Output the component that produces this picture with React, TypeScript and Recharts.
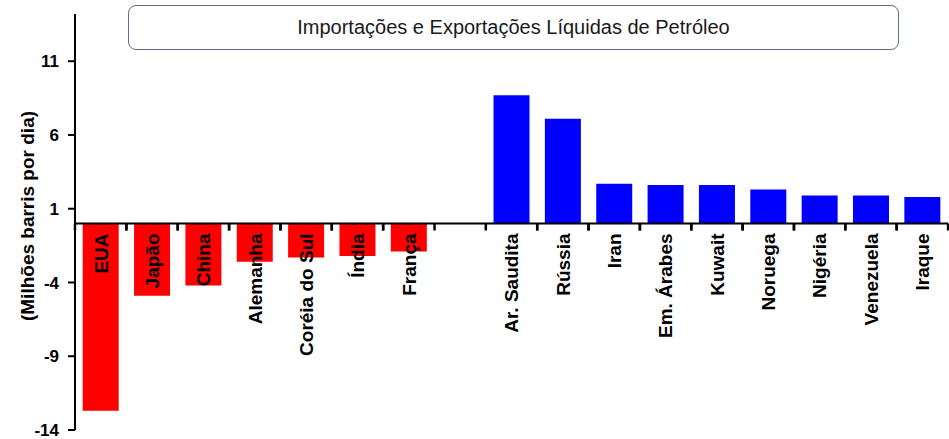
import React from 'react';
import { BarChart, Bar, XAxis, YAxis, ReferenceLine, LabelList, Cell, Label } from 'recharts';

const categories = [
  'EUA', 'Japão', 'China', 'Alemanha', 'Coréia do Sul', 'Índia', 'França', '',
  'Ar. Saudita', 'Rússia', 'Iran', 'Em. Árabes', 'Kuwait', 'Noruega', 'Nigéria', 'Venezuela', 'Iraque',
];
const netValues: (number | null)[] = [
  -12.7, -4.9, -4.2, -2.6, -2.3, -2.2, -1.9, null,
  8.7, 7.1, 2.7, 2.6, 2.6, 2.3, 1.9, 1.9, 1.8,
];
const yTicks = [-14, -9, -4, 1, 6, 11];
const title = 'Importações e Exportações Líquidas de Petróleo';
const yLabel = '(Milhões barris por dia)';

const data = categories.map((name, i) => ({ name, value: netValues[i] }));

const FONT = '"Liberation Sans", Arial, Helvetica, sans-serif';
const GAP = 0.15;

const renderCategoryLabel = (props: any) => {
  const vb = props.viewBox ?? props;
  const byName = typeof props.value === 'string' ? categories.indexOf(props.value) : -1;
  const idx = byName >= 0 ? byName : props.index;
  const name = categories[idx];
  const v = netValues[idx];
  if (!name || v == null || vb == null) return null;
  const { x, y, width, height } = vb;
  if (![x, y, width, height].every((n: any) => typeof n === 'number' && isFinite(n))) return null;
  const zero = v < 0 ? Math.min(y, y + height) : Math.max(y, y + height);
  const cx = x + width / 2;
  const band = width / (1 - 2 * GAP);
  const left = cx - band / 2;
  const right = cx + band / 2;
  const ly = zero + 10;
  return (
    <g>
      <line x1={left} x2={left} y1={zero} y2={zero + 7} stroke="#000" strokeWidth={2.5} />
      <line x1={right} x2={right} y1={zero} y2={zero + 7} stroke="#000" strokeWidth={2.5} />
      <text
        x={cx}
        y={ly}
        transform={`rotate(-90 ${cx} ${ly})`}
        textAnchor="end"
        dy="0.36em"
        fontFamily={FONT}
        fontWeight="bold"
        fontSize={19}
        fill="#000"
      >
        {name}
      </text>
    </g>
  );
};

const renderYLabel = (props: any) => {
  const vb = props.viewBox;
  if (!vb) return null;
  const cx = vb.x + 27;
  const cy = vb.y + vb.height / 2 - 6;
  return (
    <text
      x={cx}
      y={cy}
      transform={`rotate(-90 ${cx} ${cy})`}
      textAnchor="middle"
      dominantBaseline="central"
      fontFamily={FONT}
      fontWeight="bold"
      fontSize={19}
      fill="#000"
    >
      {yLabel}
    </text>
  );
};

export default function App() {
  return (
    <div style={{ position: 'relative', width: 949, height: 439, background: '#fff' }}>
      <style>{'body{margin:0}'}</style>
      <BarChart
        width={949}
        height={439}
        data={data}
        margin={{ top: 14, right: 1, bottom: 9, left: 0 }}
        barCategoryGap={`${GAP * 100}%`}
      >
        <XAxis dataKey="name" hide />
        <YAxis
          type="number"
          domain={[-14, 14.2]}
          ticks={yTicks}
          interval={0}
          width={75}
          tickSize={7}
          tickMargin={9}
          axisLine={{ stroke: '#000', strokeWidth: 2 }}
          tickLine={{ stroke: '#000', strokeWidth: 2 }}
          tick={{ fill: '#000', fontSize: 17, fontWeight: 'bold', fontFamily: FONT }}
          label={<Label content={renderYLabel} />}
        />
        <Bar dataKey="value" isAnimationActive={false}>
          {data.map((d, i) => (
            <Cell key={i} fill={(d.value ?? 0) < 0 ? '#ff0000' : '#0000ff'} />
          ))}
          <LabelList dataKey="name" content={renderCategoryLabel} />
        </Bar>
        <ReferenceLine y={0} stroke="#000" strokeWidth={2} />
      </BarChart>
      <div
        style={{
          position: 'absolute',
          left: 128,
          top: 5,
          width: 771,
          height: 45,
          boxSizing: 'border-box',
          border: '1.5px solid #5d6d8c',
          borderRadius: 8,
          background: '#fff',
          display: 'flex',
          alignItems: 'center',
          justifyContent: 'center',
          fontFamily: FONT,
          fontSize: 20,
          color: '#1a1a1a',
        }}
      >
        {title}
      </div>
    </div>
  );
}
